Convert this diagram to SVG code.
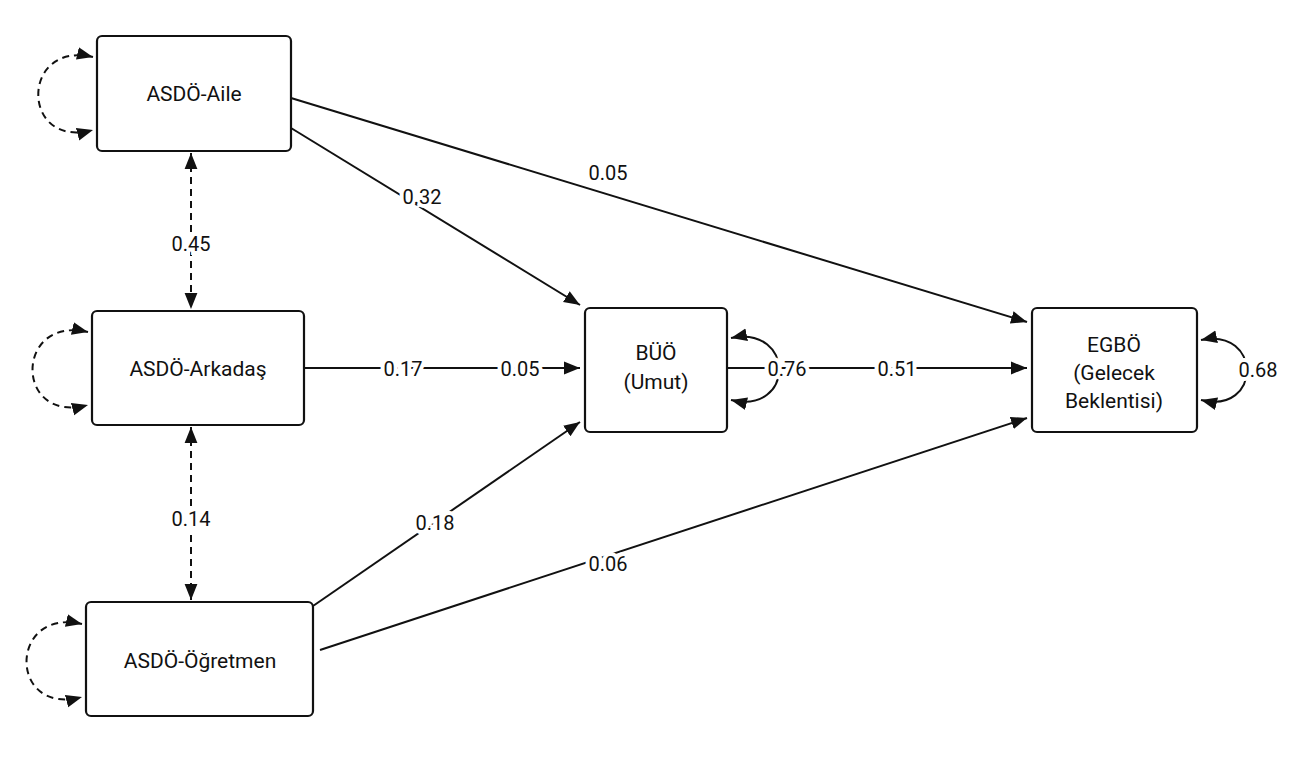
<svg xmlns="http://www.w3.org/2000/svg" width="1297" height="773" viewBox="0 0 1297 773">
<style>
.n{fill:#fff;stroke:#111;stroke-width:2.2}
.t{font-family:Roboto,"Liberation Sans",sans-serif;font-size:21px;fill:#111;text-anchor:middle}
.l{font-family:Roboto,"Liberation Sans",sans-serif;font-size:20px;fill:#111;text-anchor:middle;stroke:#fff;stroke-width:8;paint-order:stroke}
.e{fill:none;stroke:#111;stroke-width:2}
.d{stroke-dasharray:7 5}
</style>
<defs>
<marker id="a" viewBox="0 0 10 10" refX="10" refY="5" markerWidth="9" markerHeight="9" markerUnits="userSpaceOnUse" orient="auto-start-reverse"><path d="M0,0 L10,5 L0,10 z" fill="#111"/></marker>
<marker id="b" viewBox="0 0 10 10" refX="10" refY="5" markerWidth="16" markerHeight="16" markerUnits="userSpaceOnUse" orient="auto-start-reverse"><path d="M0,1 L10,5 L0,9 z" fill="#111"/></marker>
</defs>
<rect width="1297" height="773" fill="#fff"/>
<g id="connectors">
<path class="e" d="M291,98 L1027,322" marker-end="url(#b)"/>
<path class="e" d="M291,128 L580,305" marker-end="url(#b)"/>
<path class="e" d="M304,368 L580,368" marker-end="url(#b)"/>
<path class="e" d="M313,606 L580,422" marker-end="url(#b)"/>
<path class="e" d="M320,650 L1027,418" marker-end="url(#b)"/>
<path class="e" d="M727,368 L1027,368" marker-end="url(#b)"/>
<path class="e d" d="M191,153 L191,309" marker-start="url(#b)" marker-end="url(#b)"/>
<path class="e d" d="M191,427 L191,600" marker-start="url(#b)" marker-end="url(#b)"/>
<path class="e d" d="M93,57 C20,40 20,150 93,130" marker-start="url(#b)" marker-end="url(#b)"/>
<path class="e d" d="M88,332 C14,315 14,425 88,405" marker-start="url(#b)" marker-end="url(#b)"/>
<path class="e d" d="M82,624 C8,607 8,717 82,697" marker-start="url(#b)" marker-end="url(#b)"/>
<path class="e" d="M731,338 C795,325 795,415 731,400" marker-start="url(#b)" marker-end="url(#b)"/>
<path class="e" d="M1201,340 C1262,327 1262,415 1201,400" marker-start="url(#b)" marker-end="url(#b)"/>
<text class="l" x="608" y="180">0.05</text>
<text class="l" x="422" y="204">0.32</text>
<text class="l" x="403" y="376">0.17</text>
<text class="l" x="520" y="376">0.05</text>
<text class="l" x="435" y="530">0.18</text>
<text class="l" x="608" y="571">0.06</text>
<text class="l" x="787" y="376">0.76</text>
<text class="l" x="897" y="376">0.51</text>
<text class="l" x="191" y="251">0.45</text>
<text class="l" x="191" y="526">0.14</text>
<text class="l" x="1258" y="377">0.68</text>
</g>
<g id="aile"><rect class="n" x="97" y="36" width="194" height="115" rx="5"/><text class="t" x="194" y="101">ASDÖ-Aile</text></g>
<g id="arkadas"><rect class="n" x="92" y="311" width="212" height="114" rx="5"/><text class="t" x="198" y="376">ASDÖ-Arkadaş</text></g>
<g id="ogretmen"><rect class="n" x="86" y="602" width="227" height="114" rx="5"/><text class="t" x="200" y="668">ASDÖ-Öğretmen</text></g>
<g id="buo"><rect class="n" x="585" y="308" width="142" height="124" rx="5"/><text class="t" x="656" y="360">BÜÖ</text><text class="t" x="656" y="389">(Umut)</text></g>
<g id="egbo"><rect class="n" x="1032" y="308" width="165" height="124" rx="5"/><text class="t" x="1114" y="352">EGBÖ</text><text class="t" x="1114" y="380">(Gelecek</text><text class="t" x="1114" y="408">Beklentisi)</text></g>
</svg>
